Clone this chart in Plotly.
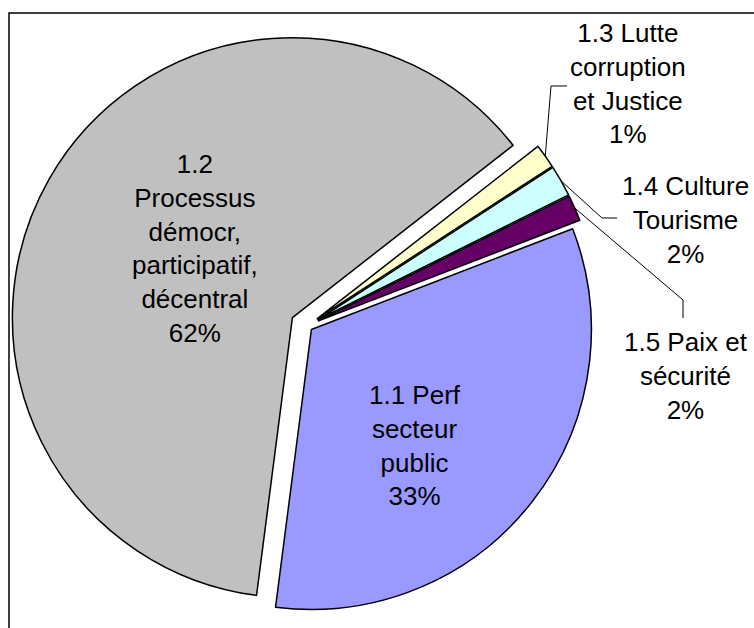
import math
import plotly.graph_objects as go

# ---- data ----
labels = ["1.3 Lutte corruption et Justice", "1.4 Culture Tourisme", "1.5 Paix et sécurité",
          "1.1 Perf secteur public", "1.2 Processus démocr, participatif, décentral"]
label_lines = [
    ["1.3 Lutte", "corruption", "et Justice"],
    ["1.4 Culture", "Tourisme"],
    ["1.5 Paix et", "sécurité"],
    ["1.1 Perf", "secteur", "public"],
    ["1.2", "Processus", "démocr,", "participatif,", "décentral"],
]
values = [1.4, 1.8, 1.5, 32.9, 62.4]
colors = ["#FFFFCC", "#CCFFFF", "#660066", "#9999FF", "#C0C0C0"]
pulls = [0.045, 0.045, 0.045, 0.02, 0.06]

# ---- layout geometry ----
W, H = 754, 628
CX, CY, R = 307, 326, 280
ROT = 52
max_pull = max(pulls)
box = 2 * R * (1 + max_pull)
dom_x = [(CX - box / 2) / W, (CX + box / 2) / W]
dom_y = [1 - (CY + box / 2) / H, 1 - (CY - box / 2) / H]

def px(x):
    return x / W

def py(y):
    return 1 - y / H

fig = go.Figure(go.Pie(
    labels=labels, values=values, sort=False, direction="clockwise", rotation=ROT,
    pull=pulls, marker=dict(colors=colors, line=dict(color="black", width=1.5)),
    textinfo="none", hoverinfo="label+percent", showlegend=False,
    domain=dict(x=dom_x, y=dom_y),
))

total = sum(values)
pcts = [round(100 * v / total) for v in values]
texts = ["<br>".join(l + [f"{p}%"]) for l, p in zip(label_lines, pcts)]

# label placement (pixels): inside labels and outside labels with elbows
label_pos = [(628, 83), (685, 220), (686, 376), (415, 445), (195, 248)]
elbows = [[(551, 86), (567, 86)], [(602, 218), (617, 218)], [(683, 300), (683, 318)], None, None]

font = dict(family="Liberation Sans, Arial, sans-serif", size=26, color="black")
annotations = []
shapes = []
cum = 0
for i, v in enumerate(values):
    mid = math.radians(ROT + 360 * (cum + v / 2) / total)
    cum += v
    x, y = label_pos[i]
    annotations.append(dict(x=px(x), y=py(y), xref="paper", yref="paper", text=texts[i],
                            showarrow=False, font=font, align="center",
                            xanchor="center", yanchor="middle"))
    if elbows[i]:
        rr = R * (1 + pulls[i])
        sx = CX + rr * math.sin(mid)
        sy = CY - rr * math.cos(mid)
        pts = [(sx, sy)] + elbows[i]
        path = "M " + " L ".join(f"{px(a):.5f},{py(b):.5f}" for a, b in pts)
        shapes.append(dict(type="path", path=path, xref="paper", yref="paper",
                           line=dict(color="black", width=1)))

# chart border
shapes.append(dict(type="rect", xref="paper", yref="paper", x0=px(9), y0=py(13), x1=px(800), y1=py(700),
                   line=dict(color="black", width=1.5), fillcolor="rgba(0,0,0,0)", layer="below"))

fig.update_layout(
    width=W, height=H, margin=dict(l=0, r=0, t=0, b=0),
    paper_bgcolor="white", plot_bgcolor="white",
    annotations=annotations, shapes=shapes,
)
fig.write_html("out.html", config={"displayModeBar": False},
               post_script="document.body.style.margin='0px';document.body.style.overflow='hidden';")
